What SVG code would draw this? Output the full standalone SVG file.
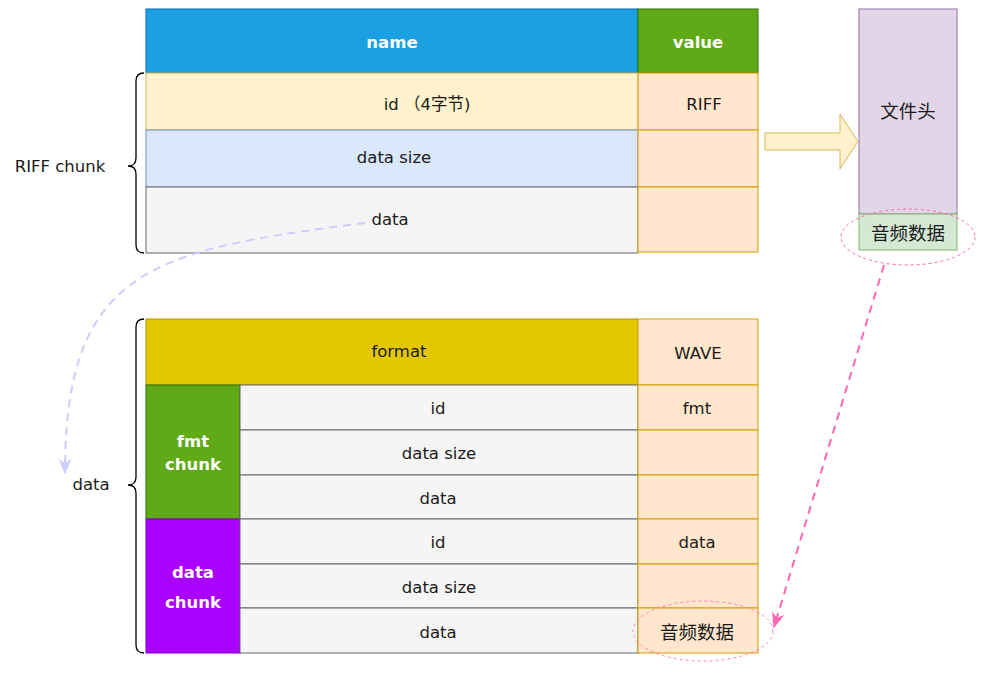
<svg xmlns="http://www.w3.org/2000/svg" width="982" height="677" viewBox="0 0 982 677">
<defs>
<style>
text{font-family:"DejaVu Sans","Noto Sans CJK SC",sans-serif;font-size:16.5px;text-anchor:middle;dominant-baseline:central;fill:#1a1a1a}
.cjk{font-family:"Noto Sans CJK SC",sans-serif;font-size:18.5px}
.w{fill:#fff;font-weight:bold}
.hn{fill:#1BA1E2;stroke:#006EAF}
.hv{fill:#60A917;stroke:#2D7600}
.y{fill:#FFF2CC;stroke:#D6B656}
.b{fill:#DAE8FC;stroke:#6C8EBF}
.g{fill:#F5F5F5;stroke:#666666}
.o{fill:#FFE6CC;stroke:#D79B00}
.br{fill:none;stroke:#000;stroke-width:1.3}
</style>
<marker id="al" viewBox="0 0 10 10" refX="9" refY="5" markerWidth="8" markerHeight="8" orient="auto"><path d="M0,1 L10,5 L0,9 L3,5 Z" fill="#CCCCFF"/></marker>
<marker id="ap" viewBox="0 0 10 10" refX="9" refY="5" markerWidth="8" markerHeight="8" orient="auto"><path d="M0,1 L10,5 L0,9 L3,5 Z" fill="#FF66B3"/></marker>
</defs>
<g id="riff">
<rect class="hn" x="146" y="9" width="492" height="64"/><text class="w" x="392" y="42">name</text>
<rect class="hv" x="638" y="9" width="120" height="64"/><text class="w" x="698" y="42">value</text>
<rect class="y" x="146" y="73" width="492" height="57"/><text x="427" y="104">id （4字节)</text>
<rect class="b" x="146" y="130" width="492" height="57"/><text x="394" y="157">data size</text>
<rect class="g" x="146" y="187" width="492" height="66"/><text x="390" y="219">data</text>
<rect class="o" x="638" y="73" width="120" height="57"/><text x="704" y="104">RIFF</text>
<rect class="o" x="638" y="130" width="120" height="57"/>
<rect class="o" x="638" y="187" width="120" height="65"/>
<path class="br" d="M144,73 Q136,73 136,81 L136,158 Q136,166 128,166 Q136,166 136,174 L136,245 Q136,253 144,253"/>
<text x="60" y="166">RIFF chunk</text>
</g>
<g id="file">
<rect x="859" y="9" width="98" height="205" fill="#E1D5E7" stroke="#9673A6"/><text class="cjk" x="908" y="110">文件头</text>
<rect x="859" y="214" width="98" height="36" fill="#D5E8D4" stroke="#82B366"/><text class="cjk" x="908" y="232">音频数据</text>
<ellipse cx="908" cy="237" rx="67" ry="28" fill="none" stroke="#FF66B3" stroke-dasharray="3 3"/>
</g>
<g id="bigarrow">
<path d="M765,133 L840,133 L840,114 L858,141.5 L840,169 L840,150 L765,150 Z" fill="#FFF2CC" stroke="#D6B656"/>
</g>
<g id="datablock">
<rect x="146" y="319" width="492" height="66" fill="#E3C800" stroke="#B09500"/><text x="399" y="351">format</text>
<rect class="o" x="638" y="319" width="120" height="66"/><text x="698" y="353">WAVE</text>
<rect x="146" y="385" width="94" height="134" fill="#60A917" stroke="#2D7600"/>
<text class="w" x="193" y="441">fmt</text><text class="w" x="193" y="464">chunk</text>
<rect x="146" y="519" width="94" height="134" fill="#AA00FF" stroke="#7700CC"/>
<text class="w" x="193" y="572">data</text><text class="w" x="193" y="602">chunk</text>
<rect class="g" x="240" y="385" width="398" height="45"/><text x="438" y="408">id</text>
<rect class="g" x="240" y="430" width="398" height="45"/><text x="439" y="453">data size</text>
<rect class="g" x="240" y="475" width="398" height="44"/><text x="438" y="498">data</text>
<rect class="g" x="240" y="519" width="398" height="45"/><text x="438" y="542">id</text>
<rect class="g" x="240" y="564" width="398" height="44"/><text x="439" y="587">data size</text>
<rect class="g" x="240" y="608" width="398" height="45"/><text x="438" y="632">data</text>
<rect class="o" x="638" y="385" width="120" height="45"/><text x="697" y="408">fmt</text>
<rect class="o" x="638" y="430" width="120" height="45"/>
<rect class="o" x="638" y="475" width="120" height="44"/>
<rect class="o" x="638" y="519" width="120" height="45"/><text x="697" y="542">data</text>
<rect class="o" x="638" y="564" width="120" height="44"/>
<rect class="o" x="638" y="608" width="120" height="45"/><text class="cjk" x="697" y="631">音频数据</text>
<ellipse cx="703" cy="631" rx="70" ry="30" fill="none" stroke="#FF66B3" stroke-width="0.8" stroke-dasharray="3 3"/>
<path class="br" d="M144,319 Q136,319 136,327 L136,477 Q136,485 128,485 Q136,485 136,493 L136,645 Q136,653 144,653"/>
<text x="91" y="484">data</text>
</g>
<g id="connectors">
<path d="M365,223 C150,250 65,270 65,473" fill="none" stroke="#CCCCFF" stroke-width="2" stroke-dasharray="8 6" marker-end="url(#al)"/>
<path d="M884,265 L774,627" fill="none" stroke="#FF66B3" stroke-width="2" stroke-dasharray="8 6" marker-end="url(#ap)"/>
</g>
</svg>
